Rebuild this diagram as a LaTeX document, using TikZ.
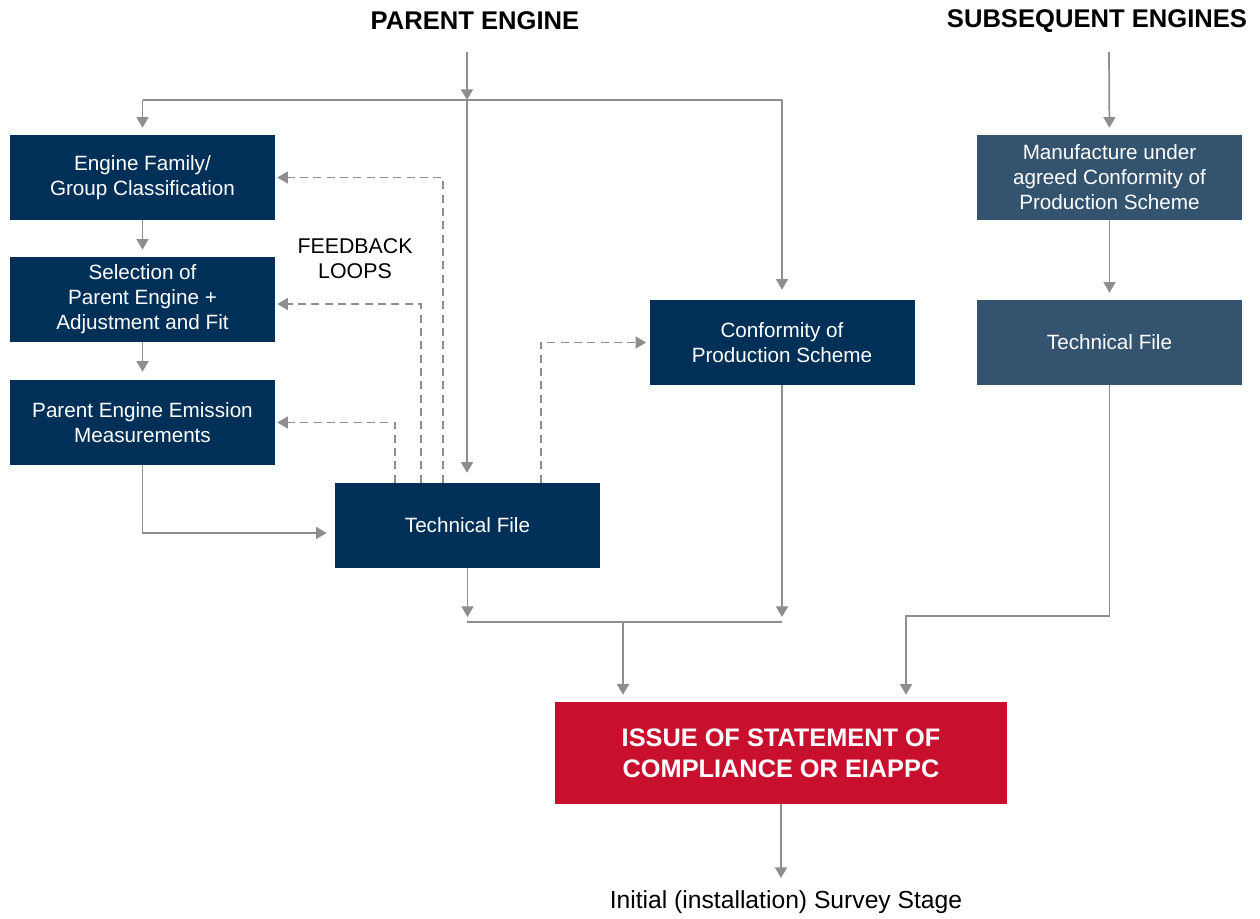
\documentclass[tikz,border=0pt]{standalone}
\usepackage{fontspec}
\setmainfont{Liberation Sans}
\usetikzlibrary{arrows.meta,calc}
\definecolor{navy}{RGB}{0,48,87}
\definecolor{slate}{RGB}{52,83,111}
\definecolor{redc}{RGB}{200,16,46}
\definecolor{linec}{RGB}{142,142,142}
\begin{document}
\begin{tikzpicture}[x=0.75pt,y=-0.75pt,
  box/.style={fill=navy, text=white, minimum width=198.75pt, minimum height=63.75pt,
    align=center, inner sep=0pt, font=\fontsize{15.5}{18.75}\selectfont},
  sbox/.style={box, fill=slate},
  redbox/.style={fill=redc, text=white, minimum width=339pt, minimum height=76.5pt,
    align=center, inner sep=0pt, font=\fontsize{19}{23}\selectfont\bfseries},
  head/.style={font=\fontsize{19.2}{23}\selectfont\bfseries, inner sep=0pt},
  plain/.style={align=center, inner sep=0pt, font=\fontsize{16}{18.75}\selectfont},
  bottomtxt/.style={inner sep=0pt, font=\fontsize{18.5}{22}\selectfont},
  conn/.style={draw=linec, line width=1.3pt},
  arr/.style={conn, -{Triangle[width=9pt,length=8pt]}},
  darr/.style={arr, dash pattern=on 6pt off 4pt},
]
\useasboundingbox (0,0) rectangle (1260,918);

% nodes
\node[head] (pe) at (475,21) {PARENT ENGINE};
\node[head] (se) at (1097,21) {SUBSEQUENT ENGINES};
\node[box] (fam) at (142.5,177.5) {Engine Family/\\Group Classification};
\node[box] (sel) at (142.5,299.5) {Selection of\\Parent Engine +\\Adjustment and Fit};
\node[box] (meas) at (142.5,422.5) {Parent Engine Emission\\Measurements};
\node[box] (tf) at (467.5,525.5) {Technical File};
\node[box] (cop) at (782,342.5) {Conformity of\\Production Scheme};
\node[sbox] (man) at (1109.5,177.5) {Manufacture under\\agreed Conformity of\\Production Scheme};
\node[sbox] (tf2) at (1109.5,342.5) {Technical File};
\node[redbox] (soc) at (781,753) {ISSUE OF STATEMENT OF\\COMPLIANCE OR EIAPPC};
\node[plain] (fb) at (355,259) {FEEDBACK\\LOOPS};
\node[bottomtxt] (survey) at (786,902) {Initial (installation) Survey Stage};

% coordinates
\coordinate (petop) at (467,52);
\coordinate (split) at (467,100);
\coordinate (setop) at (1109,52);
\coordinate (jl) at (467,622);
\coordinate (jr) at (782,622);
\coordinate (jm) at (623,622);
\coordinate (jt) at (906,616);
\coordinate (stip) at (781,878);

% parent engine distribution
\draw[arr] (petop) -- (split);
\draw[conn] (fam.north |- split) -- (cop.north |- split);
\draw[arr, shorten >=7.5pt] (split) -- (split |- tf.north);
\draw[arr, shorten >=5.25pt] (fam.north |- split) -- (fam.north);
\draw[arr, shorten >=7.5pt] (cop.north |- split) -- (cop.north);

% left chain
\draw[arr, shorten >=5.25pt] (fam) -- (sel);
\draw[arr, shorten >=6pt] (sel) -- (meas);
\draw[arr, shorten >=6pt] (meas.south) |- ([yshift=-5.6pt]tf.west);

% feedback loops
\draw[darr, shorten >=1.5pt] ($(tf.north west)+(108,0)$) |- (fam.east);
\draw[darr, shorten >=1.5pt] ($(tf.north west)+(86,0)$) |- ([yshift=-3.4pt]sel.east);
\draw[darr, shorten >=1.5pt] ($(tf.north west)+(60,0)$) |- (meas.east);
\draw[darr, shorten >=2.25pt] ($(tf.north west)+(206,0)$) |- (cop.west);

% merge to statement
\draw[arr, shorten >=3.75pt] (tf.south) -- (tf.south |- jl);
\draw[arr, shorten >=3.75pt] (cop.south) -- (jr);
\draw[conn] (jl) -- (jr);
\draw[arr, shorten >=5.25pt] (jm) -- (jm |- soc.north);

% subsequent engines
\draw[arr, shorten >=5.25pt] (setop) -- (man.north);
\draw[arr, shorten >=5.25pt] (man) -- (tf2);
\draw[arr, shorten >=5.25pt] (tf2.south) |- (jt) -- (jt |- soc.north);

% to survey
\draw[arr] (soc.south) -- (stip);
\end{tikzpicture}
\end{document}
